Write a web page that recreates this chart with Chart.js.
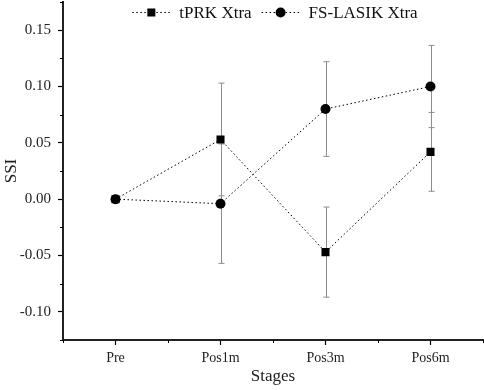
<!DOCTYPE html>
<html>
<head>
<meta charset="utf-8">
<script src="https://cdn.jsdelivr.net/npm/chart.js@4.4.1/dist/chart.umd.min.js"></script>
<style>
  html, body { margin: 0; padding: 0; background: #fff; }
  #wrap { width: 484px; height: 390px; }
</style>
</head>
<body>
<div id="wrap"><canvas id="mycanvas" width="484" height="390"></canvas></div>
<script>
// values
var stages = ['Pre', 'Pos1m', 'Pos3m', 'Pos6m'];
var tprk = [0.000, 0.053, -0.047, 0.042];
var tprkErr = [0.000, 0.050, 0.040, 0.035];
var fsLasik = [0.000, -0.004, 0.080, 0.100];
var fsLasikErr = [0.000, 0.053, 0.042, 0.0365];
var yTicks = [-0.10, -0.05, 0.00, 0.05, 0.10, 0.15];
var yMinorTicks = [-0.125, -0.075, -0.025, 0.025, 0.075, 0.125, 0.175];

var fontName = "'Liberation Serif', 'DejaVu Serif', serif";
Chart.defaults.font.family = fontName;
Chart.defaults.color = '#222';

// error bars drawn under the markers
var errorBars = {
    id: 'errorBars',
    beforeDatasetsDraw: function(chart) {
        var ctx = chart.ctx;
        var x = chart.scales.x, y = chart.scales.y;
        var sets = [[tprk, tprkErr], [fsLasik, fsLasikErr]];
        ctx.save();
        ctx.strokeStyle = '#8c8c8c';
        ctx.lineWidth = 1;
        sets.forEach(function(s) {
            for (var i = 0; i < stages.length; i++) {
                if (!s[1][i]) continue;
                var px = Math.round(x.getPixelForValue(i)) + 0.5;
                var top = y.getPixelForValue(s[0][i] + s[1][i]);
                var bot = y.getPixelForValue(s[0][i] - s[1][i]);
                ctx.beginPath();
                ctx.moveTo(px, top); ctx.lineTo(px, bot);
                ctx.moveTo(px - 3, top); ctx.lineTo(px + 3, top);
                ctx.moveTo(px - 3, bot); ctx.lineTo(px + 3, bot);
                ctx.stroke();
            }
        });
        ctx.restore();
    }
};

// short minor ticks on both axes
var minorTicks = {
    id: 'minorTicks',
    afterDraw: function(chart) {
        var ctx = chart.ctx;
        var x = chart.scales.x, y = chart.scales.y;
        var area = chart.chartArea;
        ctx.save();
        ctx.strokeStyle = '#000';
        ctx.lineWidth = 1;
        ctx.beginPath();
        yMinorTicks.forEach(function(v) {
            var py = Math.round(y.getPixelForValue(v)) + 0.5;
            ctx.moveTo(area.left - 3, py); ctx.lineTo(area.left, py);
        });
        for (var i = 0; i <= stages.length; i++) {
            var px = Math.round(x.getPixelForValue(i - 0.5)) + 0.5;
            ctx.moveTo(px, area.bottom); ctx.lineTo(px, area.bottom + 3);
        }
        ctx.stroke();
        ctx.restore();
    }
};

// legend inside the plot, top centre: dotted line + marker + label
var topLegend = {
    id: 'topLegend',
    afterDraw: function(chart) {
        var ctx = chart.ctx;
        var area = chart.chartArea;
        var sets = chart.data.datasets;
        var lineLen = 38, gap = 9, itemGap = 10;
        ctx.save();
        ctx.font = '17px ' + fontName;
        var total = 0;
        sets.forEach(function(ds, i) {
            total += lineLen + gap + ctx.measureText(ds.label).width;
            if (i > 0) total += itemGap;
        });
        var cx = (area.left + area.right) / 2 + 2;
        var px = cx - total / 2;
        var py = area.top + 10.5;
        sets.forEach(function(ds) {
            ctx.strokeStyle = '#000';
            ctx.lineWidth = 1;
            ctx.setLineDash([1.5, 2.5]);
            ctx.beginPath();
            ctx.moveTo(px, py); ctx.lineTo(px + lineLen, py);
            ctx.stroke();
            ctx.setLineDash([]);
            ctx.fillStyle = '#000';
            var mx = px + lineLen / 2;
            if (ds.pointStyle == 'rect') {
                ctx.fillRect(mx - 4, py - 4, 8, 8);
            } else {
                ctx.beginPath();
                ctx.arc(mx, py, 5, 0, Math.PI * 2);
                ctx.fill();
            }
            ctx.fillStyle = '#111';
            ctx.textBaseline = 'middle';
            ctx.textAlign = 'left';
            ctx.fillText(ds.label, px + lineLen + gap, py + 1);
            px += lineLen + gap + ctx.measureText(ds.label).width + itemGap;
        });
        ctx.restore();
    }
};

var ctx = document.getElementById('mycanvas');
var myChart = new Chart(ctx, {
    type: 'line',
    data: {
        labels: stages,
        datasets: [{
            label: 'tPRK Xtra',
            data: tprk,
            borderColor: '#000',
            borderWidth: 1,
            borderDash: [1.5, 2.5],
            pointStyle: 'rect',
            pointRadius: 5.7,
            pointBackgroundColor: '#000',
            pointBorderColor: '#000',
            pointBorderWidth: 0,
            fill: false,
            tension: 0
        }, {
            label: 'FS-LASIK Xtra',
            data: fsLasik,
            borderColor: '#000',
            borderWidth: 1,
            borderDash: [1.5, 2.5],
            pointStyle: 'circle',
            pointRadius: 5,
            pointBackgroundColor: '#000',
            pointBorderColor: '#000',
            pointBorderWidth: 0,
            fill: false,
            tension: 0
        }]
    },
    options: {
        responsive: false,
        animation: false,
        layout: {
            autoPadding: false,
            padding: { top: 2, right: 1, left: 0, bottom: 0 }
        },
        plugins: {
            tooltip: { enabled: false },
            legend: { display: false }
        },
        scales: {
            x: {
                type: 'category',
                offset: true,
                afterFit: function(scale) {
                    scale.height = 50;
                    scale.paddingLeft = 0;
                    scale.paddingRight = 0;
                },
                grid: {
                    display: true,
                    offset: false,
                    drawOnChartArea: false,
                    drawTicks: true,
                    tickLength: 5,
                    tickColor: '#000',
                    tickWidth: 1.2
                },
                border: { display: true, color: '#222', width: 2 },
                ticks: { color: '#222', padding: 5, font: { size: 14 } },
                title: {
                    display: true,
                    text: 'Stages',
                    color: '#222',
                    padding: 3,
                    font: { size: 17 }
                }
            },
            y: {
                min: -0.125,
                max: 0.175,
                afterFit: function(scale) {
                    scale.width = 63;
                    scale.paddingTop = 0;
                    scale.paddingBottom = 0;
                },
                afterBuildTicks: function(scale) {
                    scale.ticks = yTicks.map(function(v) { return { value: v }; });
                },
                grid: {
                    display: true,
                    drawOnChartArea: false,
                    drawTicks: true,
                    tickLength: 5,
                    tickColor: '#000',
                    tickWidth: 1.2
                },
                border: { display: true, color: '#222', width: 2 },
                ticks: {
                    color: '#222',
                    padding: 7,
                    font: { size: 15 },
                    callback: function(v) { return Number(v).toFixed(2); }
                },
                title: {
                    display: true,
                    text: 'SSI',
                    color: '#222',
                    padding: 1,
                    font: { size: 17 }
                }
            }
        }
    },
    plugins: [errorBars, minorTicks, topLegend]
});
</script>
</body>
</html>
